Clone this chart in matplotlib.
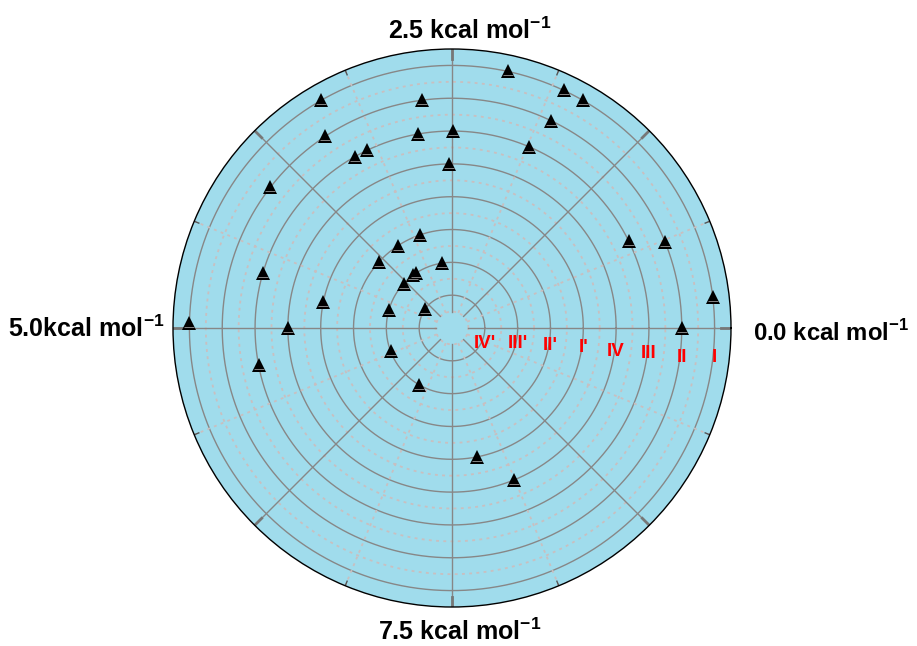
import numpy as np
import matplotlib
matplotlib.use('Agg')
import matplotlib.pyplot as plt
from matplotlib.path import Path

plt.rcParams['font.family'] = ['Liberation Sans', 'DejaVu Sans']
plt.rcParams['mathtext.fontset'] = 'custom'
plt.rcParams['mathtext.rm'] = 'Liberation Sans:bold'
plt.rcParams['mathtext.bf'] = 'Liberation Sans:bold'

# ---- data (energy in kcal/mol mapped on the angle, ring level on radius) ----
energy_kcal = [2.16, 1.80, 1.67, 3.33, 0.19, 4.97,
               1.79, 2.71, 3.43, 3.95, 0.61, 0.00,
               1.86, 2.49, 2.78, 3.21, 3.32, 0.73, 4.55, 5.30,
               2.53, 5.00, 8.12,
               4.68, 7.81,
               3.03, 3.43, 3.83,
               2.74, 3.42, 3.51, 3.82, 4.57, 5.58, 6.65,
               4.02]
ring_level = [8, 8, 8, 8, 8, 8,
              7, 7, 7, 7, 7, 7,
              6, 6, 6, 6, 6, 6, 6, 6,
              5, 5, 5,
              4, 4,
              3, 3, 3,
              2, 2, 2, 2, 2, 2, 2,
              1]
ring_labels = ['I', 'II', 'III', 'IV', "I'", "II'", "III'", "IV'"]
ring_label_levels = [8, 7, 6, 5, 4, 3, 2, 1]
axis_labels = ['0.0 kcal mol$^{-1}$', '2.5 kcal mol$^{-1}$',
               '5.0kcal mol$^{-1}$', '7.5 kcal mol$^{-1}$']
full_scale = 10.0  # kcal/mol per full turn

# ---- styling ----
W, H = 917, 646
bg = '#a0dcec'
solid_grey = '#878787'
dash_grey = '#c9bfc0'
r_max = 8.5
r_hole = 0.5
label_dy_px = [-30, -29, -26, -23, -19, -17, -15, -15]

fig = plt.figure(figsize=(W / 100, H / 100), dpi=100)
ax = fig.add_axes([173 / W, 39 / H, 558 / W, 558 / H], projection='polar')
ax.set_facecolor(bg)
ax.set_ylim(0, r_max)
ax.grid(False)
ax.set_xticks([])
ax.set_yticks([])
ax.spines['polar'].set_linewidth(1.0)
ax.spines['polar'].set_color('black')

tt = np.linspace(0, 2 * np.pi, 1441)
for k in range(1, 9):
    ax.plot(tt, np.full_like(tt, k), color=solid_grey, lw=1.0, zorder=1)
for k in np.arange(0.5, 8.0, 1.0):
    ax.plot(tt, np.full_like(tt, k), color=dash_grey, lw=1.3,
            ls=(0, (1.6, 2.4)), zorder=1)
for a in np.arange(0, 360, 45):
    t = np.deg2rad(a)
    ax.plot([t, t], [r_hole, r_max], color=solid_grey, lw=1.0, zorder=1)
    ax.plot([t, t], [r_max - 0.3, r_max], color='#777777', lw=2.0, zorder=2)
for a in np.arange(22.5, 360, 45):
    t = np.deg2rad(a)
    ax.plot([t, t], [r_hole, r_max], color=dash_grey, lw=1.3,
            ls=(0, (1.6, 2.4)), zorder=1)
    ax.plot([t, t], [r_max - 0.15, r_max], color='#555555', lw=1.0, zorder=2)

theta = np.array(energy_kcal) / full_scale * 2 * np.pi
rad = np.array(ring_level, dtype=float)
ax.plot(theta, rad, linestyle='none', marker='^', ms=10, color='black',
        mew=0, zorder=4, clip_on=False)
stripe = Path([(0, 1), (-0.7, -0.62), (0.7, -0.62), (0, -1)],
              [Path.MOVETO, Path.MOVETO, Path.LINETO, Path.MOVETO])
ax.plot(theta, rad, linestyle='none', marker=stripe, ms=10,
        markeredgecolor='#9a9a9a', markerfacecolor='none', mew=0.6,
        zorder=5, clip_on=False)

for lab, lev, dy in zip(ring_labels, ring_label_levels, label_dy_px):
    ax.annotate(lab, xy=(0, lev), xytext=(0, dy), textcoords='offset pixels',
                ha='center', va='center', color='red', fontsize=13.5,
                fontweight='bold', zorder=6)

fs = 18
fig.text(753 / W, 1 - 333 / H, axis_labels[0], ha='left', va='center',
         fontsize=17.2, fontweight='bold')
fig.text(470 / W, 1 - 31 / H, axis_labels[1], ha='center', va='center',
         fontsize=fs, fontweight='bold')
fig.text(8 / W, 1 - 329 / H, axis_labels[2], ha='left', va='center',
         fontsize=fs, fontweight='bold')
fig.text(460 / W, 1 - 632 / H, axis_labels[3], ha='center', va='center',
         fontsize=fs, fontweight='bold')

fig.savefig('out.png', dpi=100)
